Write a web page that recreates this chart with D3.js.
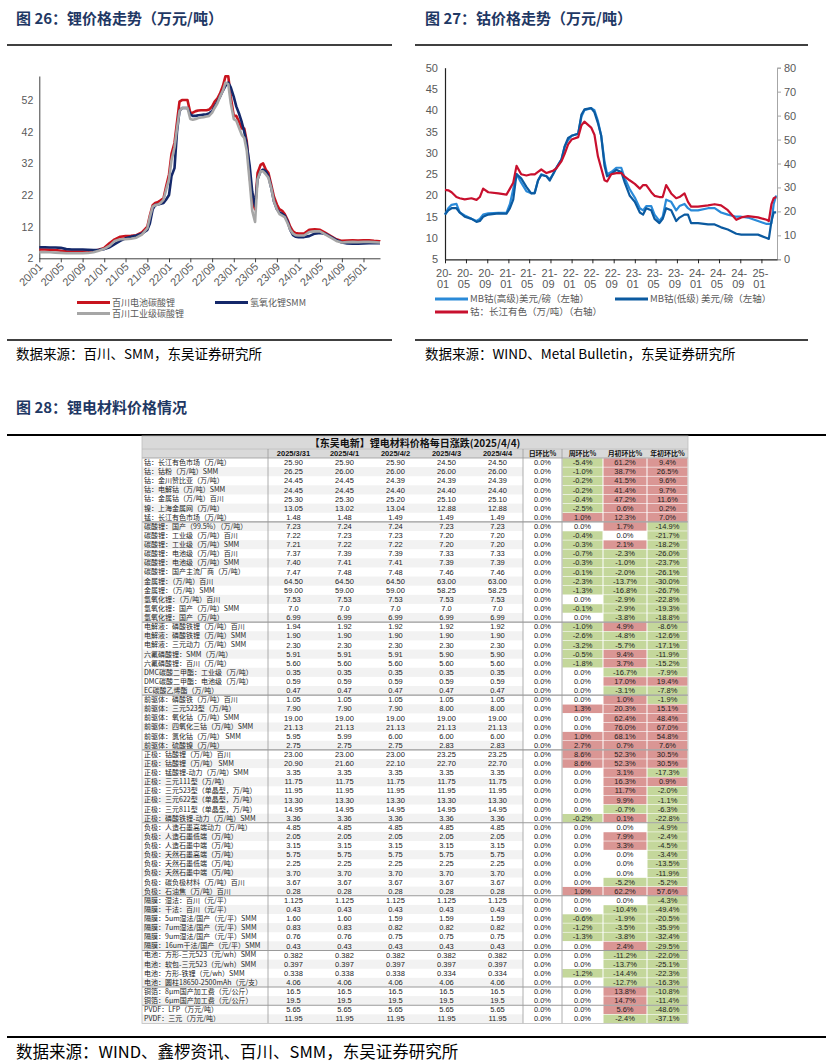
<!DOCTYPE html>
<html><head><meta charset="utf-8">
<script src="https://cdn.jsdelivr.net/npm/d3@7/dist/d3.min.js"></script>
<style>html,body{margin:0;padding:0;background:#fff;}svg{display:block;}</style>
</head><body>
<svg id="chart" width="834" height="1062" xmlns="http://www.w3.org/2000/svg"></svg>
<script>
// ================= Figure 26 : lithium prices =================
const liTitle = "图 26：锂价格走势（万元/吨）";
const liSource = "数据来源：百川、SMM，东吴证券研究所";
const liYTicks = [2, 12, 22, 32, 42, 52];
const liXTicks = ["20/01","20/05","20/09","21/01","21/05","21/09","22/01","22/05","22/09","23/01","23/05","23/09","24/01","24/05","24/09","25/01"];
const liLegend = ["百川电池碳酸锂", "氢氧化锂SMM", "百川工业级碳酸锂"];
const liDates = [
"2020-01-01","2020-02-01","2020-03-01","2020-04-01","2020-05-01","2020-06-01","2020-07-01","2020-08-01","2020-09-01","2020-10-01","2020-11-01","2020-12-01",
"2021-01-01","2021-02-01","2021-03-01","2021-04-01","2021-05-01","2021-06-01","2021-07-01","2021-08-01",
"2021-09-01","2021-09-15","2021-10-01","2021-10-15","2021-11-01","2021-11-15","2021-12-01","2021-12-15",
"2022-01-01","2022-01-15","2022-02-01","2022-02-15","2022-03-01","2022-03-15","2022-04-01","2022-04-15","2022-05-01","2022-05-15","2022-06-01","2022-06-15",
"2022-07-01","2022-07-15","2022-08-01","2022-08-15","2022-09-01","2022-09-15","2022-10-01","2022-10-15","2022-11-01","2022-11-15","2022-12-01","2022-12-15",
"2023-01-01","2023-01-15","2023-02-01","2023-02-15","2023-03-01","2023-03-15","2023-04-01","2023-04-15","2023-05-01","2023-05-15","2023-06-01","2023-06-15",
"2023-07-01","2023-07-15","2023-08-01","2023-08-15","2023-09-01","2023-09-15","2023-10-01","2023-10-15","2023-11-01","2023-11-15","2023-12-01","2023-12-15",
"2024-01-01","2024-02-01","2024-03-01","2024-04-01","2024-05-01","2024-06-01","2024-07-01","2024-08-01","2024-09-01","2024-10-01","2024-11-01","2024-12-01",
"2025-01-01","2025-02-01","2025-03-01","2025-04-01","2025-04-04"];
const liBattery = [
4.8,4.8,4.7,4.6,4.4,4.2,4.1,4.1,4.1,4.2,4.3,4.7,5.3,6.8,8.0,8.8,9.0,9.1,9.3,10.2,
12.0,15.5,18.8,19.5,19.8,20.3,21.0,24.5,
28.5,35,38.5,45,51.5,52,52,52,48,48,48.5,48.7,48.8,48.8,48.8,49,50,51.5,52.5,54,56.5,59.5,59.5,53,
47,47,45,43,43,39,28,20,17.5,29,31.5,32,30,29,25,21.5,19,17.5,17,16,14,12,10.5,10,
9.8,9.8,11,11.2,11,10,9,8,7.5,7.6,7.7,7.6,7.7,7.7,7.5,7.4,7.3];
const liHydroxide = [
5.5,5.5,5.4,5.4,5.3,4.9,4.8,4.8,4.8,4.7,4.6,4.7,4.9,5.5,6.5,7.5,8.3,8.8,9.2,9.8,
11,13,17.5,18.8,19,19.2,19.5,20.5,
22,28,30.5,42,48.5,49.5,49.5,49.5,47.5,47,47,47.2,47.3,47.4,47.5,47.8,48.5,50,51.5,53,55,56.5,57.5,56,
53,50,47.5,45,42,38,31,23,18.5,27,29.5,30,29.5,28,24,20,17.5,16.5,16,15.5,13.5,11,9.3,8.8,
8.7,8.7,9.0,9.8,10.0,9.7,8.8,7.8,7.0,6.7,6.6,6.6,6.7,6.8,6.8,6.8,6.8];
const liIndustrial = [
3.9,3.9,3.9,3.8,3.7,3.6,3.6,3.6,3.6,3.7,3.9,4.4,5.0,6.0,7.5,8.0,8.0,8.2,8.5,9.5,
11.5,15,18.3,18.8,19,19.5,20.5,23.5,
27,33,37,43,48.5,49.5,49.5,49.5,46,45.8,46,46.3,46.5,46.6,46.8,47,48,49.5,51,53,55,57.5,57,51,
46,45.5,43,41,40,36,26,17,13.5,27,29.5,29.5,28.5,27.5,24,20,17.5,16,15.5,15,13,11,9.8,9.3,
9.2,9.2,10.3,10.5,10.5,9.5,8.5,7.5,7.0,7.1,7.2,7.1,7.2,7.2,7.1,7.0,7.0];

// ================= Figure 27 : cobalt prices =================
const coTitle = "图 27：钴价格走势（万元/吨）";
const coSource = "数据来源：WIND、Metal Bulletin，东吴证券研究所";
const coLeftTicks = [5,10,15,20,25,30,35,40,45,50];
const coRightTicks = [0,10,20,30,40,50,60,70,80];
const coXTicks = ["20-01","20-05","20-09","21-01","21-05","21-09","22-01","22-05","22-09","23-01","23-05","23-09","24-01","24-05","24-09","25-01"];
const coLegend = ["MB钴(高级)美元/磅（左轴）", "MB钴(低级) 美元/磅（左轴）", "钴：长江有色（万/吨）（右轴）"];
const coDates = [
"2020-01-01","2020-01-20","2020-02-08","2020-03-07","2020-03-26","2020-04-24","2020-06-02","2020-07-01","2020-07-20","2020-08-08","2020-09-07","2020-11-04","2020-12-21",
"2021-01-10","2021-01-29","2021-02-17","2021-03-16","2021-04-15","2021-05-13","2021-06-02","2021-06-21","2021-07-10","2021-08-09","2021-08-28","2021-09-16","2021-10-05","2021-11-04","2021-11-22","2021-12-12",
"2022-01-01","2022-02-08","2022-02-27","2022-03-16","2022-04-24","2022-05-13","2022-06-02","2022-06-21","2022-07-10","2022-07-25","2022-08-18","2022-09-16","2022-10-15","2022-11-04","2022-12-02",
"2023-01-01","2023-01-30","2023-02-18","2023-03-08","2023-04-06","2023-04-25","2023-05-23","2023-06-11","2023-07-01","2023-07-30","2023-08-28","2023-09-16","2023-10-15","2023-11-04","2023-11-22",
"2024-01-01","2024-02-28","2024-04-06","2024-05-13","2024-06-21","2024-08-09","2024-09-07","2024-10-15","2024-12-12",
"2025-01-31","2025-02-13","2025-02-28","2025-03-13","2025-03-27"];
const coMBHigh = [
15.5,17,17.8,18,16,15.3,14.5,14,14.5,15.5,15.8,15.9,15.9,
18,21.5,25,23,21,20.5,20.7,23.5,25,24.5,23.8,25,26.5,28.5,31.5,33,
34,34.5,38.5,40,40.5,40,37.5,34,28,25,25.5,26.5,26.5,24,21.5,
19.5,17,16.5,17.5,17.5,15.5,14,15,19,18.5,16.5,17.5,18,17,16.5,
16.5,17,17,16,15.5,15,15,14.8,14,
13.3,13.3,13.5,18,20];
const coMBLow = [
15.5,16.5,17,17,16,15,14.5,13.8,14,15,15.5,15.8,15.7,
17,19,25,24,22,20.5,20.5,23.5,24.8,24.5,23.5,25,26.5,28.5,31.5,33.5,
34,34.5,39,40.2,40.5,39.5,37,34,27,24.5,25,26,25.5,23,20,
18.5,16,15.5,17,16.5,14.5,13.5,14.5,17,16.5,14,14.8,15.5,15.5,13.5,
13.5,13.2,13.2,12.5,12,11,10.8,10.8,10.8,
10,9.8,14,16,16];
const coCJ = [
29,28.8,28,26,25.5,25,25.5,24.8,26,29.5,28,27.5,27,
29.5,32,39,35.5,35,35.5,35.5,36.5,37.5,36,36.5,37,38,41,44,48,
50,51,56,57.5,55,52,43,38,33,32.5,35.5,36,36,34.5,33,
31.5,29.5,31,31,28,26.5,26,26,31,27.5,25.5,26,27.5,24,22,
22,22.5,23,22.5,20.5,16.5,17.5,18,17.5,
16.5,16,23,25.5,26];

// ================= Figure 28 : table =================
const tblFigTitle = "图 28：锂电材料价格情况";
const tblSource = "数据来源：WIND、鑫椤资讯、百川、SMM，东吴证券研究所";
const tblTitle = "【东吴电新】锂电材料价格每日涨跌(2025/4/4)";
const tblDates = ["2025/3/31","2025/4/1","2025/4/2","2025/4/3","2025/4/4"];
const tblPctHeads = ["日环比%","周环比%","月初环比%","年初环比%"];
const tblNames = [
"钴：长江有色市场（万/吨）","钴：钴粉（万/吨）SMM","钴：金川赞比亚（万/吨）","钴：电解钴（万/吨）SMM","钴：金属钴（万/吨）百川","镍：上海金属网（万/吨）","锰：长江有色市场（万/吨）",
"碳酸锂：国产（99.5%）（万/吨）","碳酸锂：工业级（万/吨）百川","碳酸锂：工业级（万/吨）SMM","碳酸锂：电池级（万/吨）百川","碳酸锂：电池级（万/吨）SMM","碳酸锂：国产主流厂商（万/吨）",
"金属锂：（万/吨）百川","金属锂：（万/吨）SMM","氢氧化锂：（万/吨）百川","氢氧化锂：国产（万/吨）SMM","氢氧化锂：国产（万/吨）",
"电解液：磷酸铁锂（万/吨）百川","电解液：磷酸铁锂（万/吨）SMM","电解液：三元动力（万/吨）SMM","六氟磷酸锂：SMM（万/吨）","六氟磷酸锂：百川（万/吨）",
"DMC碳酸二甲酯：工业级（万/吨）","DMC碳酸二甲酯：电池级（万/吨）","EC碳酸乙烯酯（万/吨）",
"前驱体：磷酸铁（万/吨）百川","前驱体：三元523型（万/吨）","前驱体：氧化钴（万/吨）SMM","前驱体：四氧化三钴（万/吨）SMM","前驱体：氯化钴（万/吨） SMM","前驱体：硫酸镍（万/吨）",
"正极：钴酸锂（万/吨）百川","正极：钴酸锂（万/吨） SMM","正极：锰酸锂-动力（万/吨）SMM","正极：三元111型（万/吨）","正极：三元523型（单晶型，万/吨）","正极：三元622型（单晶型，万/吨）","正极：三元811型（单晶型，万/吨）","正极：磷酸铁锂-动力（万/吨）SMM",
"负极：人造石墨高端动力（万/吨）","负极：人造石墨低端（万/吨）","负极：人造石墨中端（万/吨）","负极：天然石墨高端（万/吨）","负极：天然石墨低端（万/吨）","负极：天然石墨中端（万/吨）","负极：碳负极材料（万/吨）百川","负极：石油焦（万/吨）百川",
"隔膜：湿法：百川（元/平）","隔膜：干法：百川（元/平）","隔膜：5um湿法/国产（元/平）SMM","隔膜：7um湿法/国产（元/平）SMM","隔膜：9um湿法/国产（元/平）SMM","隔膜：16um干法/国产（元/平）SMM",
"电池：方形-三元523（元/wh）SMM","电池：软包-三元523（元/wh）SMM","电池：方形-铁锂（元/wh）SMM","电池：圆柱18650-2500mAh（元/支）",
"铜箔：8μm国产加工费（元/公斤）","铜箔：6μm国产加工费（元/公斤）","PVDF：LFP（万元/吨）","PVDF：三元（万元/吨）"];
const tblPrices = [
["25.90","25.90","25.90","24.50","24.50"],["26.25","26.00","26.00","26.00","26.00"],["24.45","24.45","24.39","24.39","24.39"],["24.45","24.45","24.40","24.40","24.40"],
["25.30","25.30","25.20","25.10","25.10"],["13.05","13.02","13.04","12.88","12.88"],["1.48","1.48","1.49","1.49","1.49"],
["7.23","7.24","7.24","7.23","7.23"],["7.22","7.23","7.23","7.20","7.20"],["7.21","7.22","7.22","7.20","7.20"],["7.37","7.39","7.39","7.33","7.33"],
["7.40","7.41","7.41","7.39","7.39"],["7.47","7.48","7.48","7.46","7.46"],["64.50","64.50","64.50","63.00","63.00"],["59.00","59.00","59.00","58.25","58.25"],
["7.53","7.53","7.53","7.53","7.53"],["7.0","7.0","7.0","7.0","7.0"],["6.99","6.99","6.99","6.99","6.99"],
["1.94","1.92","1.92","1.92","1.92"],["1.90","1.90","1.90","1.90","1.90"],["2.30","2.30","2.30","2.30","2.30"],["5.91","5.91","5.91","5.90","5.90"],
["5.60","5.60","5.60","5.60","5.60"],["0.35","0.35","0.35","0.35","0.35"],["0.59","0.59","0.59","0.59","0.59"],["0.47","0.47","0.47","0.47","0.47"],
["1.05","1.05","1.05","1.05","1.05"],["7.90","7.90","7.90","8.00","8.00"],["19.00","19.00","19.00","19.00","19.00"],["21.13","21.13","21.13","21.13","21.13"],
["5.95","5.99","6.00","6.00","6.00"],["2.75","2.75","2.75","2.83","2.83"],
["23.00","23.00","23.00","23.25","23.25"],["20.90","21.60","22.10","22.70","22.70"],["3.35","3.35","3.35","3.35","3.35"],["11.75","11.75","11.75","11.75","11.75"],
["11.95","11.95","11.95","11.95","11.95"],["13.30","13.30","13.30","13.30","13.30"],["14.95","14.95","14.95","14.95","14.95"],["3.36","3.36","3.36","3.36","3.36"],
["4.85","4.85","4.85","4.85","4.85"],["2.05","2.05","2.05","2.05","2.05"],["3.15","3.15","3.15","3.15","3.15"],["5.75","5.75","5.75","5.75","5.75"],
["2.25","2.25","2.25","2.25","2.25"],["3.70","3.70","3.70","3.70","3.70"],["3.67","3.67","3.67","3.67","3.67"],["0.28","0.28","0.28","0.28","0.28"],
["1.125","1.125","1.125","1.125","1.125"],["0.43","0.43","0.43","0.43","0.43"],["1.60","1.60","1.59","1.59","1.59"],["0.83","0.83","0.82","0.82","0.82"],
["0.76","0.76","0.75","0.75","0.75"],["0.43","0.43","0.43","0.43","0.43"],
["0.382","0.382","0.382","0.382","0.382"],["0.397","0.397","0.397","0.397","0.397"],["0.338","0.338","0.338","0.334","0.334"],["4.06","4.06","4.06","4.06","4.06"],
["16.5","16.5","16.5","16.5","16.5"],["19.5","19.5","19.5","19.5","19.5"],["5.65","5.65","5.65","5.65","5.65"],["11.95","11.95","11.95","11.95","11.95"]];
const tblDay = [0,0,0,0,0,0,0, 0,0,0,0,0,0,0,0,0,0,0, 0,0,0,0,0,0,0,0, 0,0,0,0,0,0, 0,0,0,0,0,0,0,0, 0,0,0,0,0,0,0,0, 0,0,0,0,0,0, 0,0,0,0, 0,0, 0,0];
const tblWeek = [-5.4,-1.0,-0.2,-0.2,-0.4,-2.5,1.0, 0.0,-0.4,-0.3,-0.7,-0.3,-0.1,-2.3,-1.3,0.0,-0.1,0.0,
 -1.0,-2.6,-3.2,-0.5,-1.8,0.0,0.0,0.0, 0.0,1.3,0.0,0.0,1.0,2.7, 8.6,8.6,0.0,0.0,0.0,0.0,0.0,-0.2,
 0.0,0.0,0.0,0.0,0.0,0.0,0.0,1.0, 0.0,0.0,-0.6,-1.2,-1.3,0.0, 0.0,0.0,-1.2,0.0, 0.0,0.0, 0.0,0.0];
const tblMonth = [61.2,38.7,41.5,41.4,47.2,0.6,12.3, 1.7,0.0,2.1,-2.3,-1.0,-2.0,-13.7,-16.8,-2.9,-2.9,-3.8,
 4.9,-4.8,-5.7,9.4,3.7,-16.7,17.0,-3.1, 1.0,20.3,62.4,76.0,68.1,0.7, 52.3,52.3,3.1,16.3,11.7,9.9,-0.7,0.1,
 0.0,7.9,3.3,0.0,0.0,0.0,-5.2,62.2, 0.0,-10.4,-1.9,-3.5,-3.8,2.4, -11.2,-13.7,-14.4,-12.7, 13.8,14.7, 5.6,-2.4];
const tblYear = [9.4,26.5,9.6,9.7,11.6,0.2,7.0, -14.9,-21.7,-18.2,-26.0,-23.7,-26.1,-30.0,-26.7,-22.8,-19.3,-18.8,
 -8.6,-12.6,-17.1,-11.9,-15.2,-7.9,19.4,-7.8, -1.9,15.1,48.4,67.0,54.8,7.6, 30.5,30.5,-17.3,0.9,-2.0,-1.1,-6.3,-22.8,
 -4.9,-2.4,-4.5,-3.4,-13.5,-11.9,-5.2,57.6, -4.3,-49.4,-20.5,-35.9,-32.4,-29.5, -22.0,-25.1,-22.3,-16.3, -10.8,-11.4, -48.6,-37.1];
const tblGroupEnds = [6,17,25,31,39,47,53,57,59];

// ================= drawing =================
const CJK = '"Noto Sans CJK SC","Noto Sans",sans-serif';
const LAT = '"Liberation Sans","Noto Sans",sans-serif';
const NUM = '"Liberation Sans Narrow","Liberation Sans",sans-serif';
const NAVY = "#1f3864", AXC = "#595959";
const svg = d3.select("#chart");
svg.append("rect").attr("width",834).attr("height",1062).attr("fill","#fff");

function heading(x,y,t){svg.append("text").attr("x",x).attr("y",y).attr("font-family",CJK).attr("font-weight","bold").attr("font-size",15).attr("fill",NAVY).text(t);}
function rule(x1,x2,y,w){svg.append("line").attr("x1",x1).attr("x2",x2).attr("y1",y).attr("y2",y).attr("stroke","#000").attr("stroke-width",w||1.5);}
function source(x,y,t,fs){svg.append("text").attr("x",x).attr("y",y).attr("font-family",CJK).attr("font-size",fs).attr("fill","#000").text(t);}

heading(16,24,liTitle); heading(425,24,coTitle); heading(16,413,tblFigTitle);
rule(7,392,45); rule(415,808,45); rule(7,392,340); rule(415,808,340); rule(7,826,435,2); rule(7,826,1037,2);
source(16,359,liSource,13.5); source(425,359,coSource,13.5); source(16,1058,tblSource,16.5);

const parseD = d3.timeParse("%Y-%m-%d");

// ---------- Figure 26 ----------
(function(){
  const x = d3.scaleTime().domain([parseD("2020-01-01"), parseD("2025-04-04")]).range([39.3,380]);
  const y = d3.scaleLinear().domain([2,59.6]).range([258.3,76]);
  const g = svg.append("g");
  const yAx = g.append("g").attr("transform","translate(39.3,0)").call(d3.axisLeft(y).tickValues(liYTicks).tickSize(0).tickPadding(6).tickFormat(d3.format("d")));
  yAx.select(".domain").attr("stroke","#404040").attr("stroke-width",1);
  yAx.selectAll("text").attr("font-family",LAT).attr("font-size",10.5).attr("fill",AXC);
  const px = d3.timeParse("%y/%m");
  const xAx = g.append("g").attr("transform","translate(0,258.3)").call(d3.axisBottom(x).tickValues(liXTicks.map(px)).tickFormat(d3.timeFormat("%y/%m")).tickSize(4).tickSizeOuter(0));
  xAx.select(".domain").attr("stroke","#404040").attr("stroke-width",1);
  xAx.selectAll(".tick line").attr("stroke","#404040");
  xAx.selectAll("text").attr("font-family",LAT).attr("font-size",11).attr("fill",AXC)
     .attr("x",-4).attr("y",5).attr("dy","0.35em").attr("transform","rotate(-45)").style("text-anchor","end");
  const series = [
    {v:liBattery, c:"#c8141e"},
    {v:liHydroxide, c:"#14286a"},
    {v:liIndustrial, c:"#a6a6a6"}];
  const line = d3.line().x(d=>x(d[0])).y(d=>y(d[1]));
  series.forEach(s=>{
    const pts = liDates.map((d,i)=>[parseD(d), s.v[i]]);
    g.append("path").attr("d",line(pts)).attr("fill","none").attr("stroke",s.c).attr("stroke-width",2.6).attr("stroke-linejoin","round");
  });
  const leg = [{t:liLegend[0],c:"#c8141e",x:77,y:302.5},{t:liLegend[1],c:"#14286a",x:215,y:302.5},{t:liLegend[2],c:"#a6a6a6",x:77,y:313.5}];
  leg.forEach(l=>{
    g.append("line").attr("x1",l.x).attr("x2",l.x+33).attr("y1",l.y).attr("y2",l.y).attr("stroke",l.c).attr("stroke-width",3);
    g.append("text").attr("x",l.x+35).attr("y",l.y).attr("dy","0.35em").attr("font-family",CJK).attr("font-size",9).attr("fill",AXC).text(l.t);
  });
})();

// ---------- Figure 27 ----------
(function(){
  const x = d3.scaleTime().domain([parseD("2020-01-01"), parseD("2025-04-01")]).range([445,777]);
  const yL = d3.scaleLinear().domain([5,50]).range([259.3,67.7]);
  const yR = d3.scaleLinear().domain([0,80]).range([259.3,67.7]);
  const g = svg.append("g");
  const aL = g.append("g").attr("transform","translate(445,0)").call(d3.axisLeft(yL).tickValues(coLeftTicks).tickSize(0).tickPadding(7));
  aL.select(".domain").attr("stroke","#222").attr("stroke-width",1.2);
  aL.selectAll("text").attr("font-family",LAT).attr("font-size",11).attr("fill",AXC);
  const aR = g.append("g").attr("transform","translate(777,0)").call(d3.axisRight(yR).tickValues(coRightTicks).tickSize(4).tickSizeOuter(4).tickPadding(3));
  aR.select(".domain").attr("stroke","#a6a6a6");
  aR.selectAll(".tick line").attr("stroke","#a6a6a6");
  aR.selectAll("text").attr("font-family",LAT).attr("font-size",11).attr("fill",AXC);
  const px = d3.timeParse("%y-%m");
  const aX = g.append("g").attr("transform","translate(0,259.3)").call(d3.axisBottom(x).tickValues(coXTicks.map(px)).tickFormat("").tickSize(4).tickSizeOuter(0));
  aX.select(".domain").attr("stroke","#222").attr("stroke-width",1.2);
  aX.selectAll(".tick line").attr("stroke","#222");
  coXTicks.forEach(t=>{
    const xx = x(px(t)); const parts = t.split("-");
    g.append("text").attr("x",xx-1).attr("y",273).attr("dy","0.35em").attr("text-anchor","middle").attr("font-family",LAT).attr("font-size",11).attr("fill",AXC).text(parts[0]+"-");
    g.append("text").attr("x",xx-2).attr("y",284).attr("dy","0.35em").attr("text-anchor","middle").attr("font-family",LAT).attr("font-size",11).attr("fill",AXC).text(parts[1]);
  });
  const lineL = d3.line().x(d=>x(d[0])).y(d=>yL(d[1]));
  const lineR = d3.line().x(d=>x(d[0])).y(d=>yR(d[1]));
  const mk = v => coDates.map((d,i)=>[parseD(d), v[i]]);
  g.append("path").attr("d",lineL(mk(coMBHigh))).attr("fill","none").attr("stroke","#2a8ad8").attr("stroke-width",2.2).attr("stroke-linejoin","round");
  g.append("path").attr("d",lineL(mk(coMBLow))).attr("fill","none").attr("stroke","#0b5aa0").attr("stroke-width",2.2).attr("stroke-linejoin","round");
  g.append("path").attr("d",lineR(mk(coCJ))).attr("fill","none").attr("stroke","#c8102e").attr("stroke-width",2.2).attr("stroke-linejoin","round");
  const leg = [{t:coLegend[0],c:"#2a8ad8",x:435,y:299},{t:coLegend[1],c:"#0b5aa0",x:615,y:299},{t:coLegend[2],c:"#c8102e",x:435,y:312}];
  leg.forEach(l=>{
    g.append("line").attr("x1",l.x).attr("x2",l.x+33).attr("y1",l.y).attr("y2",l.y).attr("stroke",l.c).attr("stroke-width",3);
    g.append("text").attr("x",l.x+35).attr("y",l.y).attr("dy","0.35em").attr("font-family",CJK).attr("font-size",9.5).attr("fill",AXC).text(l.t);
  });
})();

// ---------- Figure 28 : table ----------
(function(){
  const L=142, R=688, nameR=268, dateR=523, pctEdges=[523,562,603,647,688];
  const titleTop=436, headTop=449, bodyTop=458, rowH=9.12;
  const n = tblNames.length, bottom = bodyTop + n*rowH;
  const dW = (dateR-nameR)/tblDates.length;
  const g = svg.append("g");
  g.append("rect").attr("x",L).attr("y",titleTop).attr("width",R-L).attr("height",bodyTop-titleTop).attr("fill","#d9d9d9");
  g.append("text").attr("x",(L+R)/2).attr("y",(titleTop+headTop)/2+0.5).attr("dy","0.35em").attr("text-anchor","middle")
   .attr("font-family",CJK).attr("font-weight","bold").attr("font-size",10).attr("fill","#111").text(tblTitle);
  tblDates.forEach((d,i)=>{
    g.append("text").attr("x",nameR+dW*(i+0.5)).attr("y",(headTop+bodyTop)/2).attr("dy","0.35em").attr("text-anchor","middle")
     .attr("font-family",NUM).attr("font-weight","bold").attr("font-size",7.5).attr("fill","#111").text(d);
  });
  tblPctHeads.forEach((d,i)=>{
    g.append("text").attr("x",(pctEdges[i]+pctEdges[i+1])/2).attr("y",(headTop+bodyTop)/2).attr("dy","0.35em").attr("text-anchor","middle")
     .attr("font-family",CJK).attr("font-weight","bold").attr("font-size",7).attr("fill","#111").text(d);
  });
  const rows = g.selectAll("g.row").data(tblNames).join("g").attr("class","row")
    .attr("transform",(d,i)=>`translate(0,${bodyTop+i*rowH})`);
  rows.filter((d,i)=>i%2===1).append("rect").attr("x",L).attr("y",0).attr("width",dateR-L).attr("height",rowH).attr("fill","#f2f2f2");
  rows.append("text").attr("x",L+2).attr("y",rowH/2).attr("dy","0.35em").attr("font-family",CJK).attr("font-size",7).attr("fill","#222").text(d=>d);
  rows.each(function(d,i){
    const r = d3.select(this);
    tblPrices[i].forEach((p,j)=>{
      r.append("text").attr("x",nameR+dW*(j+0.5)).attr("y",rowH/2).attr("dy","0.35em").attr("text-anchor","middle")
       .attr("font-family",NUM).attr("font-size",7.5).attr("fill","#222").text(p);
    });
    const pv = [tblDay[i], tblWeek[i], tblMonth[i], tblYear[i]];
    pv.forEach((v,k)=>{
      const fill = k===0 ? null : (v<0 ? "#c4d79b" : (v>0 ? "#da9694" : null));
      if (fill) r.append("rect").attr("x",pctEdges[k]+0.5).attr("y",0.3).attr("width",pctEdges[k+1]-pctEdges[k]-1).attr("height",rowH-0.6).attr("fill",fill);
      r.append("text").attr("x",(pctEdges[k]+pctEdges[k+1])/2).attr("y",rowH/2).attr("dy","0.35em").attr("text-anchor","middle")
       .attr("font-family",NUM).attr("font-size",7.5).attr("fill","#222").text(v.toFixed(1)+"%");
    });
  });
  const vl = (xx,y1,y2,c)=>g.append("line").attr("x1",xx).attr("x2",xx).attr("y1",y1).attr("y2",y2).attr("stroke",c).attr("stroke-width",0.8);
  const hl = (yy,x1,x2,c,w)=>g.append("line").attr("x1",x1).attr("x2",x2).attr("y1",yy).attr("y2",yy).attr("stroke",c).attr("stroke-width",w||0.8);
  hl(headTop,L,R,"#bfbfbf"); hl(bodyTop,L,R,"#9a9a9a");
  vl(nameR,headTop,bottom,"#9a9a9a"); vl(dateR,headTop,bottom,"#9a9a9a"); vl(pctEdges[1],headTop,bottom,"#9a9a9a");
  tblGroupEnds.forEach(e=>hl(bodyTop+(e+1)*rowH,L,R,"#9a9a9a",1.1));
  g.append("rect").attr("x",L).attr("y",titleTop).attr("width",R-L).attr("height",bottom-titleTop).attr("fill","none").attr("stroke","#bfbfbf").attr("stroke-width",0.8);
})();
</script>
</body></html>
